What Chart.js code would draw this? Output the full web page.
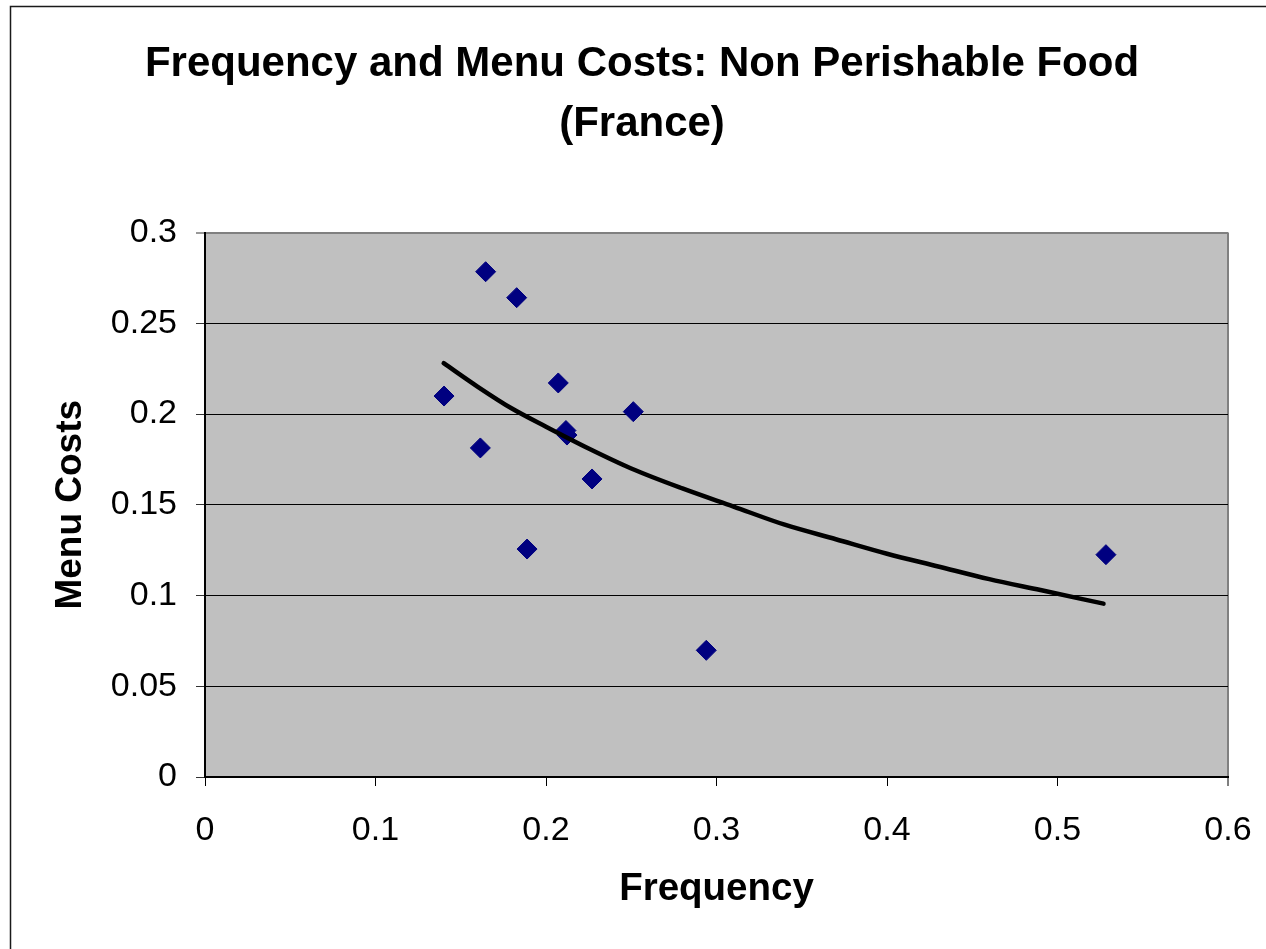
<!DOCTYPE html>
<html>
<head>
<meta charset="utf-8">
<title>Frequency and Menu Costs: Non Perishable Food (France)</title>
<script src="https://cdn.jsdelivr.net/npm/chart.js@4/dist/chart.umd.min.js"></script>
<style>
  html, body { margin: 0; padding: 0; background: #ffffff; }
  #wrap { width: 1266px; height: 949px; position: relative; }
</style>
</head>
<body>
<div id="wrap"><canvas id="chart" width="1266" height="949"></canvas></div>
<script>
// Observed products: price-change frequency vs. estimated menu cost
const frequency = [0.1646, 0.1828, 0.1402, 0.2072, 0.2512, 0.2117, 0.2123, 0.1615, 0.2270, 0.1889, 0.2940, 0.5284];
const menuCosts = [0.2784, 0.2641, 0.2099, 0.2171, 0.2013, 0.1909, 0.1884, 0.1813, 0.1642, 0.1256, 0.0698, 0.1225];

// Logarithmic trend line, sampled along the curve
const trendFrequency = [0.140, 0.160, 0.180, 0.200, 0.225, 0.250, 0.280, 0.310, 0.340, 0.370, 0.400, 0.430, 0.460, 0.490, 0.527];
const trendMenuCosts = [0.228, 0.215, 0.203, 0.193, 0.181, 0.170, 0.159, 0.149, 0.139, 0.131, 0.123, 0.116, 0.109, 0.103, 0.0955];

// Axis ticks
const xTicks = [0, 0.1, 0.2, 0.3, 0.4, 0.5, 0.6];
const yTicks = [0, 0.05, 0.1, 0.15, 0.2, 0.25, 0.3];

const titleLines = ['Frequency and Menu Costs: Non Perishable Food', '(France)'];
const xTitle = 'Frequency';
const yTitle = 'Menu Costs';

const FONT = "'Liberation Sans', Arial, Helvetica, sans-serif";

const toXY = (xs, ys) => xs.map((x, i) => ({ x: x, y: ys[i] }));
const fmt = v => String(Number(v.toFixed(2)));

// Grey plot background and the outer chart frame
const framePlugin = {
  id: 'frame',
  beforeDraw(chart) {
    const { ctx, chartArea: a } = chart;
    ctx.save();
    ctx.fillStyle = '#ffffff';
    ctx.fillRect(0, 0, chart.width, chart.height);
    ctx.fillStyle = '#c0c0c0';
    ctx.fillRect(a.left, a.top, a.right - a.left, a.bottom - a.top);
    ctx.strokeStyle = '#1a1a1a';
    ctx.lineWidth = 1.5;
    ctx.beginPath();
    ctx.moveTo(10.5, chart.height + 2);
    ctx.lineTo(10.5, 6.5);
    ctx.lineTo(chart.width + 2, 6.5);
    ctx.stroke();
    ctx.restore();
  }
};

new Chart(document.getElementById('chart'), {
  type: 'scatter',
  data: {
    datasets: [
      {
        label: 'Menu Costs',
        data: toXY(frequency, menuCosts),
        order: 2,
        pointStyle: 'rectRot',
        pointRadius: 10,
        pointHoverRadius: 10,
        backgroundColor: '#000080',
        borderColor: '#000080',
        borderWidth: 1,
        showLine: false
      },
      {
        label: 'Trend',
        data: toXY(trendFrequency, trendMenuCosts),
        order: 1,
        showLine: true,
        pointRadius: 0,
        pointHoverRadius: 0,
        borderColor: '#000000',
        borderWidth: 4.5,
        borderCapStyle: 'round',
        borderJoinStyle: 'round',
        cubicInterpolationMode: 'monotone',
        fill: false
      }
    ]
  },
  options: {
    responsive: false,
    animation: false,
    devicePixelRatio: 1,
    layout: { padding: { left: 56, right: 38, top: 0, bottom: 0 } },
    plugins: {
      legend: { display: false },
      tooltip: { enabled: false },
      title: {
        display: true,
        text: titleLines,
        color: '#000000',
        font: { family: FONT, size: 42, weight: 'bold', lineHeight: 1.4286 },
        padding: { top: 34, bottom: 78.5 }
      }
    },
    scales: {
      x: {
        type: 'linear',
        min: 0,
        max: 0.6,
        afterBuildTicks: s => { s.ticks = xTicks.map(v => ({ value: v })); },
        afterFit: s => { s.height = 172; s.paddingLeft = 0; s.paddingRight = 0; },
        border: { display: true, color: '#000000', width: 2 },
        grid: {
          drawOnChartArea: true,
          drawTicks: true,
          tickLength: 9,
          tickColor: '#000000',
          tickWidth: 1,
          color: c => (c.tick && c.tick.value === 0.6) ? '#808080' : 'rgba(0,0,0,0)',
          lineWidth: c => (c.tick && c.tick.value === 0.6) ? 2 : 1
        },
        ticks: {
          color: '#000000',
          padding: 24,
          maxRotation: 0,
          autoSkip: false,
          font: { family: FONT, size: 34 },
          callback: v => fmt(v)
        },
        title: {
          display: true,
          text: xTitle,
          color: '#000000',
          font: { family: FONT, size: 38.5, weight: 'bold', lineHeight: 1.2 },
          padding: { top: 0, bottom: 37 }
        }
      },
      y: {
        type: 'linear',
        min: 0,
        max: 0.3,
        afterBuildTicks: s => { s.ticks = yTicks.map(v => ({ value: v })); },
        afterFit: s => { s.width = 149; },
        border: { display: true, color: '#000000', width: 2 },
        grid: {
          drawOnChartArea: true,
          drawTicks: true,
          tickLength: 9,
          tickColor: '#333333',
          tickWidth: 1,
          color: c => (c.tick && c.tick.value === 0.3) ? '#808080' : '#000000',
          lineWidth: c => (c.tick && c.tick.value === 0.3) ? 2 : 1
        },
        ticks: {
          color: '#000000',
          padding: 19,
          autoSkip: false,
          font: { family: FONT, size: 34 },
          callback: v => fmt(v)
        },
        title: {
          display: true,
          text: yTitle,
          color: '#000000',
          font: { family: FONT, size: 37, weight: 'bold', lineHeight: 0.78 },
          padding: { top: 0, bottom: 0 }
        }
      }
    }
  },
  plugins: [framePlugin]
});
</script>
</body>
</html>
